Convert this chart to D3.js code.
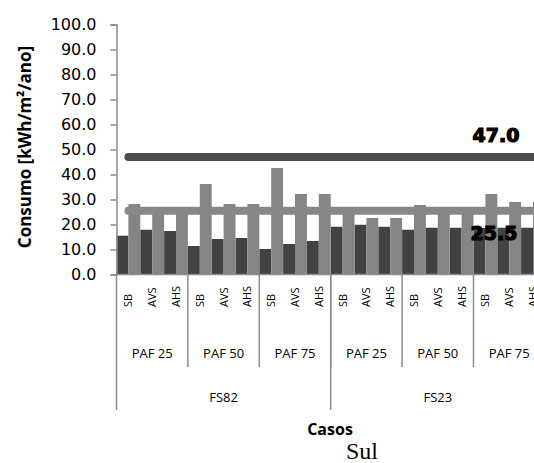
<!DOCTYPE html>
<html>
<head>
<meta charset="utf-8">
<script src="https://cdn.jsdelivr.net/npm/d3@7"></script>
<style>
  body { margin: 0; background: #fff; }
  svg { display: block; }
</style>
</head>
<body>
<div id="chart"></div>
<script>

// categories (three levels of the axis)
let fsGroups  = ["FS82", "FS23"];
let pafGroups = ["PAF 25", "PAF 50", "PAF 75"];
let cases     = ["SB", "AVS", "AHS"];

// series values, one per case, in axis order
let darkValues  = [15.5, 17.9, 17.4, 11.4, 14.2, 14.6, 10.2, 12.2, 13.4,
                   19.1, 19.9, 19.1, 17.9, 18.7, 18.7, 18.6, 18.7, 18.7];
let lightValues = [28.2, 25.4, 25.4, 36.2, 28.2, 28.2, 42.6, 32.2, 32.2,
                   25.4, 22.6, 22.6, 27.8, 25.4, 25.4, 32.2, 29.0, 29.0];

// reference levels
let upperLimit = 47.0;
let lowerLimit = 25.5;

let yTicks = [0, 10, 20, 30, 40, 50, 60, 70, 80, 90, 100];

let width = 534, height = 463;
let plotLeft = 116.5, plotTop = 24.5, plotBottom = 274.5;
let catW = 23.8;

// build the flat category list
let cats = [];
fsGroups.forEach(fs => pafGroups.forEach(paf => cases.forEach(c => {
    cats.push({fs: fs, paf: paf, c: c, key: fs + "|" + paf + "|" + c});
})));
cats.forEach((d, i) => { d.dark = darkValues[i]; d.light = lightValues[i]; });

let x = d3.scaleBand()
    .domain(cats.map(d => d.key))
    .range([plotLeft, plotLeft + catW * cats.length])
    .padding(0);

let y = d3.scaleLinear()
    .domain([0, 100])
    .range([plotBottom, plotTop]);

let svg = d3.select("#chart")
    .append("svg")
    .attr("width", width)
    .attr("height", height)
    .attr("font-family", "'Open Sans', sans-serif");

// bars
let half = x.bandwidth() / 2;
svg.append("g").selectAll("rect")
    .data(cats)
    .join("rect")
    .attr("x", d => x(d.key))
    .attr("y", d => y(d.dark))
    .attr("width", half)
    .attr("height", d => y(0) - y(d.dark))
    .attr("fill", "#424242");

svg.append("g").selectAll("rect")
    .data(cats)
    .join("rect")
    .attr("x", d => x(d.key) + half)
    .attr("y", d => y(d.light))
    .attr("width", half)
    .attr("height", d => y(0) - y(d.light))
    .attr("fill", "#858585");

// y axis
let yAxis = svg.append("g")
    .attr("transform", `translate(${plotLeft},0)`)
    .call(d3.axisLeft(y).tickValues(yTicks).tickFormat(d3.format(".1f")).tickSize(6).tickPadding(14));
yAxis.selectAll("path, line").attr("stroke", "#8c8c8c").attr("stroke-width", 1.5);
yAxis.selectAll("text")
    .attr("font-family", "'DejaVu Sans', sans-serif")
    .attr("font-size", 16)
    .attr("fill", "#000");

// x axis line and category separators
let axisColor = "#8c8c8c";
svg.append("line")
    .attr("x1", plotLeft).attr("x2", width)
    .attr("y1", plotBottom).attr("y2", plotBottom)
    .attr("stroke", axisColor).attr("stroke-width", 1.5);
svg.append("line")
    .attr("x1", plotLeft).attr("x2", plotLeft)
    .attr("y1", plotBottom).attr("y2", 410)
    .attr("stroke", axisColor).attr("stroke-width", 1.5);

// reference lines
let refLine = v => d3.line()
    .x(d => x(d.key) + x.bandwidth() / 2)
    .y(() => y(v));

svg.append("path")
    .datum(cats)
    .attr("d", refLine(upperLimit))
    .attr("fill", "none")
    .attr("stroke", "#4b4b4b")
    .attr("stroke-width", 8)
    .attr("stroke-linecap", "round");

svg.append("path")
    .datum(cats)
    .attr("d", refLine(lowerLimit))
    .attr("fill", "none")
    .attr("stroke", "#878787")
    .attr("stroke-width", 8)
    .attr("stroke-linecap", "round");

// value labels (heavy)
[[upperLimit, 496, y(upperLimit) - 15], [lowerLimit, 494, y(lowerLimit) + 29]].forEach(l => {
    svg.append("text")
        .attr("x", l[1]).attr("y", l[2])
        .attr("text-anchor", "middle")
        .attr("font-family", "'DejaVu Sans', sans-serif")
        .attr("font-weight", "bold")
        .attr("font-size", 19)
        .attr("stroke", "#000")
        .attr("stroke-width", 1.2)
        .text(d3.format(".1f")(l[0]));
});

// level 1: case labels, rotated
svg.append("g").selectAll("text")
    .data(cats)
    .join("text")
    .attr("transform", d => `translate(${x(d.key) + x.bandwidth() / 2 + 4},307) rotate(-90)`)
    .attr("font-size", 11)
    .text(d => d.c);

// level 2: PAF groups
let pafW = catW * cases.length;
let pafList = [];
fsGroups.forEach(fs => pafGroups.forEach(p => pafList.push({fs: fs, paf: p})));
pafList.forEach((d, i) => { d.x0 = plotLeft + i * pafW; });

svg.append("g").selectAll("text")
    .data(pafList)
    .join("text")
    .attr("x", d => d.x0 + pafW / 2)
    .attr("y", 358)
    .attr("text-anchor", "middle")
    .attr("font-size", 13)
    .text(d => d.paf);

svg.append("g").selectAll("line")
    .data(pafList.slice(1))
    .join("line")
    .attr("x1", d => d.x0).attr("x2", d => d.x0)
    .attr("y1", plotBottom).attr("y2", 367)
    .attr("stroke", axisColor).attr("stroke-width", 1.5);

// level 3: FS groups
let fsW = pafW * pafGroups.length;
svg.append("g").selectAll("text")
    .data(fsGroups)
    .join("text")
    .attr("x", (d, i) => plotLeft + i * fsW + fsW / 2)
    .attr("y", 402)
    .attr("text-anchor", "middle")
    .attr("font-size", 13)
    .text(d => d);

svg.append("line")
    .attr("x1", plotLeft + fsW).attr("x2", plotLeft + fsW)
    .attr("y1", plotBottom).attr("y2", 410)
    .attr("stroke", axisColor).attr("stroke-width", 1.5);

// titles
svg.append("text")
    .attr("transform", `translate(31,${(42 + 252) / 2}) rotate(-90)`)
    .attr("text-anchor", "middle")
    .attr("font-weight", "bold")
    .attr("font-size", 17)
    .text("Consumo [kWh/m²/ano]");

svg.append("text")
    .attr("x", 330).attr("y", 435)
    .attr("text-anchor", "middle")
    .attr("font-weight", "bold")
    .attr("font-size", 16)
    .text("Casos");

svg.append("text")
    .attr("x", 362).attr("y", 459)
    .attr("text-anchor", "middle")
    .attr("font-family", "'Liberation Serif', serif")
    .attr("font-size", 24)
    .text("Sul");

</script>
</body>
</html>
